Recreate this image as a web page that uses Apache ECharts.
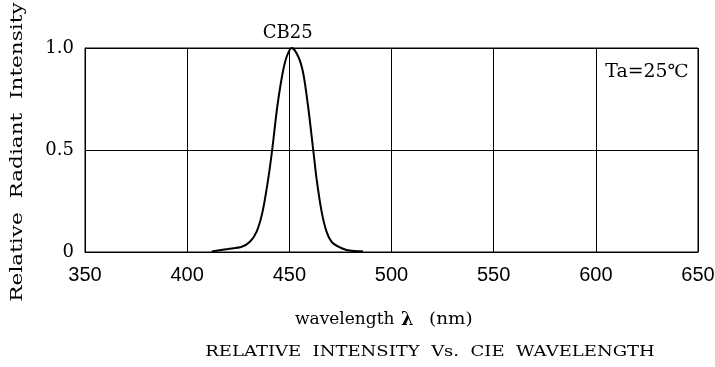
<!DOCTYPE html>
<html>
<head>
<meta charset="utf-8">
<script src="https://cdn.jsdelivr.net/npm/echarts@6/dist/echarts.min.js"></script>
<style>html,body{margin:0;padding:0;background:#fff;}#c{width:715px;height:367px;}</style>
</head>
<body>
<div id="c"></div>
<script>
const wavelengths = [412, 420, 426.7, 430.7, 434, 436.9, 439.7, 441.6, 444.1, 446.7, 448.7, 451.2, 454.4, 456.8, 459.2, 461.7, 463.3, 465.8, 468.2, 470.7, 474, 478, 482, 486];
const intensity   = [0.003, 0.015, 0.026, 0.05, 0.1, 0.198, 0.361, 0.5, 0.712, 0.876, 0.957, 1.0, 0.957, 0.876, 0.712, 0.5, 0.361, 0.198, 0.1, 0.05, 0.026, 0.01, 0.005, 0.004];
const seriesName = 'CB25';
const xTicks = [350, 400, 450, 500, 550, 600, 650];
const yTickLabels = {0: '0', 0.5: '0.5', 1: '1.0'};
const xTitle = 'wavelength';
const xSymbol = 'λ';
const xUnit = '(nm)';
const chartTitle = 'RELATIVE  INTENSITY  Vs.  CIE  WAVELENGTH';
const yTitle = 'Relative  Radiant  Intensity';
const noteText = 'Ta=25℃';

const serifFamily = '"DejaVu Serif", "Liberation Serif", serif';
const chart = echarts.init(document.getElementById('c'), null, {renderer: 'canvas'});
chart.setOption({
  animation: false,
  backgroundColor: '#fff',
  grid: {left: 85, right: 17, top: 48, bottom: 115, show: true, borderColor: '#000', borderWidth: 1,
    containLabel: false, outerBoundsMode: 'none'},
  xAxis: {
    type: 'value', min: xTicks[0], max: xTicks[xTicks.length - 1], interval: 50,
    axisLine: {show: true, lineStyle: {color: '#000', width: 1}},
    axisTick: {show: false},
    axisLabel: {margin: 13, fontFamily: '"Liberation Sans", Arial, sans-serif', fontSize: 20, color: '#000'},
    splitLine: {show: true, lineStyle: {color: '#000', width: 1}}
  },
  yAxis: {
    type: 'value', min: 0, max: 1, interval: 0.5,
    axisLine: {show: true, lineStyle: {color: '#000', width: 1}},
    axisTick: {show: false},
    axisLabel: {margin: 11, fontFamily: serifFamily, fontSize: 18, color: '#000',
      formatter: v => yTickLabels[v] !== undefined ? yTickLabels[v] : ''},
    splitLine: {show: true, lineStyle: {color: '#000', width: 1}}
  },
  graphic: [
    {type: 'text', x: 647, y: 72, scaleX: 1.05,
      style: {text: noteText, fontFamily: serifFamily, fontSize: 18, fill: '#000', align: 'center', verticalAlign: 'middle'}},
    {type: 'text', x: 18, y: 152, rotation: Math.PI / 2, scaleX: 1.27,
      style: {text: yTitle, fontFamily: serifFamily, fontSize: 17, fill: '#000', align: 'center', verticalAlign: 'middle'}},
    {type: 'text', x: 295, y: 320,
      style: {text: xTitle, fontFamily: serifFamily, fontSize: 17, fill: '#000', align: 'left', verticalAlign: 'middle'}},
    {type: 'text', x: 401, y: 320,
      style: {text: xSymbol, fontFamily: serifFamily, fontSize: 18, fontWeight: 'bold', fill: '#000', align: 'left', verticalAlign: 'middle'}},
    {type: 'text', x: 429, y: 320, scaleX: 1.08,
      style: {text: xUnit, fontFamily: serifFamily, fontSize: 17, fill: '#000', align: 'left', verticalAlign: 'middle'}},
    {type: 'text', x: 430, y: 352, scaleX: 1.2,
      style: {text: chartTitle, fontFamily: serifFamily, fontSize: 15, fill: '#000', align: 'center', verticalAlign: 'middle'}}
  ],
  series: [{
    name: seriesName,
    type: 'line',
    data: wavelengths.map((w, i) => [w, intensity[i]]),
    smooth: 0.3,
    showSymbol: false,
    lineStyle: {color: '#000', width: 2},
    markPoint: {
      symbol: 'circle', symbolSize: 0,
      data: [{coord: [wavelengths[11], intensity[11]]}],
      label: {show: true, position: 'top', distance: 6, offset: [-4, 0], formatter: seriesName,
        fontFamily: serifFamily, fontSize: 18, color: '#000'}
    }
  }]
});
</script>
</body>
</html>
